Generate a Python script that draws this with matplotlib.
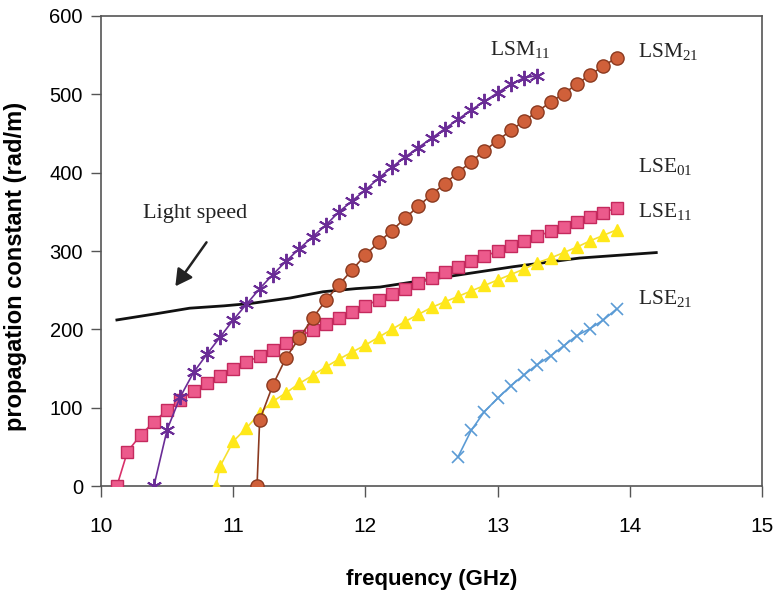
import matplotlib
matplotlib.use("Agg")
import matplotlib.pyplot as plt

plt.rcParams['mathtext.fontset'] = 'custom'
plt.rcParams['mathtext.rm'] = 'Liberation Serif'
plt.rcParams['mathtext.it'] = 'Liberation Serif'

# ---- data (frequency in GHz, propagation constant in rad/m) ----
lse11_f = [10.12, 10.2, 10.3, 10.4, 10.5, 10.6, 10.7, 10.8, 10.9, 11.0, 11.1, 11.2, 11.3,
           11.4, 11.5, 11.6, 11.7, 11.8, 11.9, 12.0, 12.1, 12.2, 12.3, 12.4, 12.5, 12.6,
           12.7, 12.8, 12.9, 13.0, 13.1, 13.2, 13.3, 13.4, 13.5, 13.6, 13.7, 13.8, 13.9]
lse11_b = [0, 44, 65, 82, 97, 110, 121, 131, 140, 149, 158, 166, 174,
           182, 191, 199, 207, 214, 222, 230, 238, 245, 252, 259, 266, 273,
           280, 287, 293, 300, 306, 313, 319, 325, 331, 337, 343, 349, 355]

lsm11_f = [10.4, 10.5, 10.6, 10.7, 10.8, 10.9, 11.0, 11.1, 11.2, 11.3, 11.4, 11.5, 11.6,
           11.7, 11.8, 11.9, 12.0, 12.1, 12.2, 12.3, 12.4, 12.5, 12.6, 12.7, 12.8, 12.9,
           13.0, 13.1, 13.2, 13.3]
lsm11_b = [0, 72, 114, 145, 168, 190, 212, 232, 252, 270, 287, 303, 318,
           333, 350, 364, 378, 393, 407, 420, 432, 444, 456, 468, 480, 491,
           502, 513, 521, 524]

lse01_f = [10.87, 10.9, 11.0, 11.1, 11.2, 11.3, 11.4, 11.5, 11.6, 11.7, 11.8, 11.9, 12.0,
           12.1, 12.2, 12.3, 12.4, 12.5, 12.6, 12.7, 12.8, 12.9, 13.0, 13.1, 13.2, 13.3,
           13.4, 13.5, 13.6, 13.7, 13.8, 13.9]
lse01_b = [0, 25, 57, 74, 93, 108, 119, 131, 141, 152, 162, 171, 180,
           190, 200, 210, 219, 228, 235, 242, 249, 256, 263, 270, 277, 285,
           291, 298, 305, 313, 320, 327]

lsm21_f = [11.18, 11.2, 11.3, 11.4, 11.5, 11.6, 11.7, 11.8, 11.9, 12.0, 12.1, 12.2, 12.3,
           12.4, 12.5, 12.6, 12.7, 12.8, 12.9, 13.0, 13.1, 13.2, 13.3, 13.4, 13.5, 13.6,
           13.7, 13.8, 13.9]
lsm21_b = [0, 84, 129, 164, 189, 214, 237, 257, 276, 295, 311, 326, 342,
           357, 372, 386, 400, 414, 428, 441, 454, 466, 478, 490, 501, 513,
           525, 536, 547]

lse21_f = [12.7, 12.8, 12.9, 13.0, 13.1, 13.2, 13.3, 13.4, 13.5, 13.6, 13.7, 13.8, 13.9]
lse21_b = [37, 71, 95, 112, 128, 142, 155, 166, 179, 192, 201, 212, 226]

light_f = [10.12, 10.42, 10.67, 10.93, 11.13, 11.43, 11.68, 11.93, 12.11, 12.61, 13.12, 13.62, 14.2]
light_b = [212, 220, 227, 230, 233, 240, 248, 252, 254, 267, 280, 291, 298]

x_ticks = [10, 11, 12, 13, 14, 15]
y_ticks = [0, 100, 200, 300, 400, 500, 600]

mode_labels = [r'LSM$_{\mathrm{11}}$', r'LSM$_{\mathrm{21}}$', r'LSE$_{\mathrm{01}}$',
               r'LSE$_{\mathrm{11}}$', r'LSE$_{\mathrm{21}}$']
label_pos = [(12.94, 557), (14.06, 555), (14.06, 408), (14.06, 350), (14.06, 240)]

fig = plt.figure(figsize=(7.73, 5.97), dpi=100)
ax = fig.add_axes([0.1307, 0.1859, 0.8551, 0.7873])

ax.plot(light_f, light_b, color='#111111', lw=2.0, zorder=2)

ax.plot(lse11_f, lse11_b, color='#d8306a', lw=1.2, marker='s', markersize=8,
        markerfacecolor='#ec5a8c', markeredgecolor='#c42a5e', markeredgewidth=1.0, zorder=3)
ax.plot(lse01_f, lse01_b, color='#f5e030', lw=1.2, marker='^', markersize=8.5,
        markerfacecolor='#ffe81a', markeredgecolor='#ffe81a', zorder=3)
ax.plot(lsm21_f, lsm21_b, color='#8b3a20', lw=1.2, marker='o', markersize=9.5,
        markerfacecolor='#d0603a', markeredgecolor='#8b3a20', markeredgewidth=1.0, zorder=4)
ax.plot(lsm11_f, lsm11_b, color='#6a2c96', lw=1.2, marker=(6, 2, 0), markersize=11,
        markeredgecolor='#6a2c96', markeredgewidth=1.4, zorder=5)
ax.plot(lse21_f, lse21_b, color='#5b9bd5', lw=1.2, marker='x', markersize=9,
        markeredgecolor='#5b9bd5', markeredgewidth=1.2, zorder=3)

for txt, (fx, by) in zip(mode_labels, label_pos):
    ax.text(fx, by, txt, fontsize=15.5, family='Liberation Serif', color='#222222',
            ha='left', va='center')

ax.text(10.32, 348, 'Light speed', fontsize=16, family='Liberation Serif',
        color='#222222', ha='left', va='center')
ax.annotate('', xy=(10.55, 252), xytext=(10.81, 314),
            arrowprops=dict(arrowstyle='-|>,head_length=1.0,head_width=0.55',
                            color='#222222', lw=1.8))

ax.set_xlim(10, 15)
ax.set_ylim(0, 600)
ax.set_xticks(x_ticks)
ax.set_yticks(y_ticks)
ax.set_xticklabels([str(v) for v in x_ticks], family='Liberation Sans', fontsize=15)
ax.set_yticklabels([str(v) for v in y_ticks], family='Liberation Sans', fontsize=14.5)
ax.tick_params(axis='x', direction='out', length=8, width=1.0, color='#555555', pad=14)
ax.tick_params(axis='y', direction='out', length=7, width=1.0, color='#555555', pad=6)
for s in ax.spines.values():
    s.set_color('#555555')
    s.set_linewidth(1.2)

ax.set_xlabel('frequency (GHz)', family='Liberation Sans', fontweight='bold',
              fontsize=16, labelpad=24)
ax.set_ylabel('propagation constant (rad/m)', family='Liberation Sans', fontweight='bold',
              fontsize=17)
ax.yaxis.set_label_coords(-0.112, 0.468)

fig.savefig('out.png', dpi=100)
